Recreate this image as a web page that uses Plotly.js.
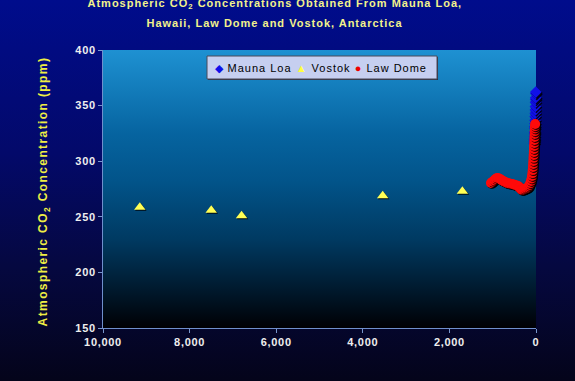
<!DOCTYPE html>
<html><head><meta charset="utf-8">
<script src="https://cdn.plot.ly/plotly-3.0.1.min.js"></script>
<style>
html,body{margin:0;padding:0;background:#04041c;}
#wrap{position:relative;width:575px;height:381px;overflow:hidden;
 background:linear-gradient(to bottom,#000c8c 0%,#03096a 40%,#050840 70%,#04041a 100%);}
#plotbg{position:absolute;left:103px;top:50px;width:433px;height:278px;
 background:linear-gradient(to bottom,rgb(30,145,210) 0%,rgb(6,100,160) 30%,rgb(2,84,138) 47%,rgb(0,58,98) 68%,rgb(0,22,40) 88%,rgb(0,0,4) 100%);}
#chart{position:absolute;left:0;top:0;width:575px;height:381px;}
#chart .annotation-text{letter-spacing:1px;}
#chart g.annotation[data-index="2"] .annotation-text{letter-spacing:1.4px;}
#chart .xtick text, #chart .ytick text{letter-spacing:0.7px;}
#chart .scatterlayer .trace .points path{filter:drop-shadow(1px 1.5px 0.6px rgba(0,0,0,0.85));}
</style></head>
<body>
<div id="wrap"><div id="plotbg"></div><div id="chart"></div></div>
<script>
// Years before present (x) and CO2 ppm (y)
const maunaLoaYears = [41, 39, 37, 35, 33, 31, 29, 27, 25, 23, 21, 19, 17, 15, 13, 11, 9, 7, 5, 4];
const maunaLoaPpm   = [316, 317.6, 319, 320, 322.2, 324.6, 326.3, 329.7, 331.1, 333.8, 336.8, 340.1, 343.1, 346.1, 349.2, 353.1, 355.6, 357.1, 360.8, 362.2];

const vostokYears = [9150, 7500, 6800, 3540, 1700];
const vostokPpm   = [258.5, 256, 251, 269, 273];

const lawDomeYears = [1040, 1005, 970, 935, 900, 865, 830, 795, 760, 725, 690, 655, 625, 590, 555, 520, 485, 450, 415, 390, 370, 345, 325, 300, 280, 255, 230, 205, 185, 165, 150, 130, 115, 102, 92, 84, 76, 70, 66, 62, 58, 54, 50, 47, 44, 41, 38, 35, 32, 29, 26, 23, 20];
const lawDomePpm   = [280.4, 281.5, 282.6, 284, 284.9, 284.6, 284, 283, 282.2, 281.5, 280.8, 280.3, 279.9, 279.7, 279.5, 279, 278.6, 278.1, 277.7, 276.8, 276, 275, 274.2, 274.4, 274.6, 275, 275.5, 275.9, 276.3, 277.3, 278.6, 280.3, 282.2, 284.4, 286.7, 289.3, 292, 294.8, 297.5, 300.2, 303, 305.6, 308.3, 311, 313.7, 316.3, 319, 321.8, 324.5, 327, 329.5, 331.5, 333.5];

const xTickVals = [10000, 8000, 6000, 4000, 2000, 0];
const xTickText = ['10,000', '8,000', '6,000', '4,000', '2,000', '0'];
const yTickVals = [150, 200, 250, 300, 350, 400];

const tickFont = {family: 'Arial, "Liberation Sans", sans-serif', size: 11, color: '#eeeeee', weight: 'bold'};

const traces = [
  {x: maunaLoaYears, y: maunaLoaPpm, name: 'Mauna Loa', mode: 'markers', type: 'scatter', cliponaxis: false,
   marker: {symbol: 'diamond', size: 9, color: '#1010e8', line: {width: 0}}},
  {x: vostokYears, y: vostokPpm, name: 'Vostok', mode: 'markers', type: 'scatter', cliponaxis: false,
   marker: {symbol: 'triangle-up', size: 10, color: '#ffff55', line: {width: 0}}},
  {x: lawDomeYears, y: lawDomePpm, name: 'Law Dome', mode: 'markers', type: 'scatter', cliponaxis: false,
   marker: {symbol: 'circle', size: 10, color: '#ff0a0a', line: {width: 0}}}
];

const titleFont = {family: 'Arial, "Liberation Sans", sans-serif', size: 11, color: '#f2f28c', weight: 'bold'};

const layout = {
  width: 575, height: 381,
  margin: {l: 103, r: 39, t: 50, b: 53},
  paper_bgcolor: 'rgba(0,0,0,0)',
  plot_bgcolor: 'rgba(0,0,0,0)',
  showlegend: false,
  xaxis: {range: [10000, 0], autorange: false, tickvals: xTickVals, ticktext: xTickText,
    ticks: 'outside', ticklen: 4, tickcolor: '#7896cc', showline: true, linecolor: '#6f8fcc', linewidth: 1,
    showgrid: false, zeroline: false, tickfont: tickFont},
  yaxis: {range: [150, 400], autorange: false, tickvals: yTickVals,
    ticks: 'outside', ticklen: 4, tickcolor: '#7896cc', showline: true, linecolor: '#6f8fcc', linewidth: 1,
    showgrid: false, zeroline: false, tickfont: tickFont},
  shapes: [
    {type: 'rect', xref: 'paper', yref: 'paper', x0: 0.2425, x1: 0.7737, y0: 0.8921, y1: 0.9748,
     fillcolor: '#303040', line: {width: 0}, layer: 'above'},
    {type: 'rect', xref: 'paper', yref: 'paper', x0: 0.2402, x1: 0.7714, y0: 0.8957, y1: 0.9784,
     fillcolor: '#c6cff0', line: {color: '#4a4a5a', width: 1}, layer: 'above'}
  ],
  annotations: [
    {text: 'Atmospheric CO<sub>2</sub> Concentrations Obtained From Mauna Loa,', xref: 'paper', yref: 'paper',
     x: 0.397, y: 1.165, xanchor: 'center', yanchor: 'middle', showarrow: false, font: titleFont},
    {text: 'Hawaii, Law Dome and Vostok, Antarctica', xref: 'paper', yref: 'paper',
     x: 0.397, y: 1.097, xanchor: 'center', yanchor: 'middle', showarrow: false, font: titleFont},
    {text: 'Atmospheric CO<sub>2</sub> Concentration (ppm)', xref: 'paper', yref: 'paper',
     x: -0.136, y: 0.49, xanchor: 'center', yanchor: 'middle', textangle: -90, showarrow: false,
     font: {family: 'Arial, "Liberation Sans", sans-serif', size: 12, color: '#eeee44', weight: 'bold'}},
    {text: '<span style="color:#1010e8">◆</span> Mauna Loa <span style="color:#ffff40">▲</span> Vostok <span style="color:#f00000">●</span> Law Dome',
     xref: 'paper', yref: 'paper', x: 0.503, y: 0.937, xanchor: 'center', yanchor: 'middle', showarrow: false,
     font: {family: 'Arial, "Liberation Sans", sans-serif', size: 11, color: '#000000'}}
  ]
};

Plotly.newPlot('chart', traces, layout, {displayModeBar: false, staticPlot: true});
</script>
</body></html>
